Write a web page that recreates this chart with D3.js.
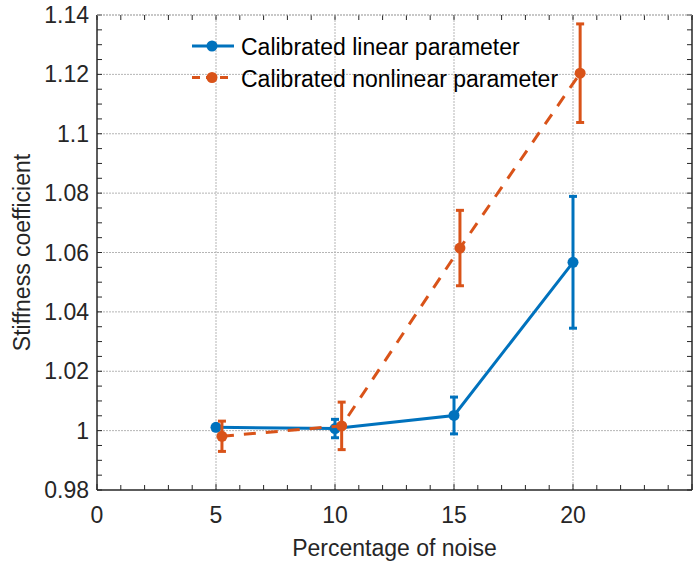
<!DOCTYPE html>
<html>
<head>
<meta charset="utf-8">
<script src="https://cdn.jsdelivr.net/npm/d3@7"></script>
<style>
  body { margin: 0; background: #fff; }
  svg { font-family: "Liberation Sans", Arial, sans-serif; }
</style>
</head>
<body>
<div id="chart"></div>
<script>
var width = 696,
    height = 571;

var margin = {top: 15, right: 4, bottom: 81, left: 97};

// data
var linX = [5, 10, 15, 20];
var linY = [1.0011, 1.0007, 1.0051, 1.0567];
var linErr = [0.0003, 0.0031, 0.0062, 0.0222];

var nonX = [5.25, 10.28, 15.25, 20.3];
var nonY = [0.9981, 1.0016, 1.0615, 1.1204];
var nonErr = [0.0051, 0.0080, 0.0127, 0.0166];

var xTicks = [0, 5, 10, 15, 20];
var yTicks = [0.98, 1, 1.02, 1.04, 1.06, 1.08, 1.1, 1.12, 1.14];
var yTickLabels = ["0.98", "1", "1.02", "1.04", "1.06", "1.08", "1.1", "1.12", "1.14"];

var seriesNames = ["Calibrated linear parameter", "Calibrated nonlinear parameter"];
var colors = ["#0072BD", "#D95319"];

var svg = d3.select("#chart").append("svg")
    .attr("width", width)
    .attr("height", height);

var x = d3.scaleLinear().domain([0, 25]).range([margin.left, width - margin.right]);
var y = d3.scaleLinear().domain([0.98, 1.14]).range([height - margin.bottom, margin.top]);

var g = svg.append("g");

// grid
g.selectAll("line.hgrid")
    .data(yTicks.slice(1)).enter()
    .append("line")
    .attr("x1", x(0)).attr("x2", x(25))
    .attr("y1", function(d) { return y(d); })
    .attr("y2", function(d) { return y(d); })
    .attr("stroke", "#b5b5b5")
    .attr("stroke-width", 1)
    .attr("stroke-dasharray", "2,1");

g.selectAll("line.vgrid")
    .data(xTicks.slice(1)).enter()
    .append("line")
    .attr("y1", y(0.98)).attr("y2", y(1.14))
    .attr("x1", function(d) { return x(d); })
    .attr("x2", function(d) { return x(d); })
    .attr("stroke", "#b5b5b5")
    .attr("stroke-width", 1)
    .attr("stroke-dasharray", "2,1");

// minor ticks
var xMinor = d3.range(0, 26, 1);
var yMinor = d3.range(0, 33).map(function(i) { return 0.98 + i * 0.005; });

// bottom + top ticks
g.append("g").selectAll("line")
    .data(xMinor).enter()
    .append("line")
    .attr("x1", function(d) { return x(d); })
    .attr("x2", function(d) { return x(d); })
    .attr("y1", y(0.98))
    .attr("y2", function(d) { return y(0.98) - (d % 5 === 0 ? 6 : 5); })
    .attr("stroke", "#262626").attr("stroke-width", 1);
g.append("g").selectAll("line")
    .data(xMinor).enter()
    .append("line")
    .attr("x1", function(d) { return x(d); })
    .attr("x2", function(d) { return x(d); })
    .attr("y1", y(1.14))
    .attr("y2", function(d) { return y(1.14) + 5; })
    .attr("stroke", "#262626").attr("stroke-width", 1);

// left + right ticks
g.append("g").selectAll("line")
    .data(yMinor).enter()
    .append("line")
    .attr("y1", function(d) { return y(d); })
    .attr("y2", function(d) { return y(d); })
    .attr("x1", x(0))
    .attr("x2", x(0) + 5)
    .attr("stroke", "#262626").attr("stroke-width", 1);
g.append("g").selectAll("line")
    .data(yMinor).enter()
    .append("line")
    .attr("y1", function(d) { return y(d); })
    .attr("y2", function(d) { return y(d); })
    .attr("x1", x(25))
    .attr("x2", x(25) - 5)
    .attr("stroke", "#262626").attr("stroke-width", 1);

// axis lines
g.append("line")
    .attr("x1", x(0)).attr("x2", x(25))
    .attr("y1", y(0.98)).attr("y2", y(0.98))
    .attr("stroke", "#262626").attr("stroke-width", 1.5);
g.append("line")
    .attr("x1", x(0)).attr("x2", x(0))
    .attr("y1", y(0.98)).attr("y2", y(1.14))
    .attr("stroke", "#262626").attr("stroke-width", 1.5);
g.append("line")
    .attr("x1", x(25)).attr("x2", x(25))
    .attr("y1", y(0.98)).attr("y2", y(1.14))
    .attr("stroke", "#262626").attr("stroke-width", 1.5);
g.append("line")
    .attr("x1", x(0)).attr("x2", x(25))
    .attr("y1", y(1.14)).attr("y2", y(1.14))
    .attr("stroke", "#b5b5b5").attr("stroke-width", 1)
    .attr("stroke-dasharray", "2,1");

// tick labels
g.selectAll("text.xt")
    .data(xTicks).enter()
    .append("text")
    .attr("x", function(d) { return x(d); })
    .attr("y", y(0.98) + 33)
    .attr("text-anchor", "middle")
    .attr("font-size", 23)
    .attr("fill", "#262626")
    .text(function(d) { return d; });

g.selectAll("text.yt")
    .data(yTicks).enter()
    .append("text")
    .attr("x", x(0) - 8)
    .attr("y", function(d) { return y(d) + 8; })
    .attr("text-anchor", "end")
    .attr("font-size", 23)
    .attr("fill", "#262626")
    .text(function(d, i) { return yTickLabels[i]; });

// axis titles
svg.append("text")
    .attr("x", (x(0) + x(25)) / 2)
    .attr("y", 556)
    .attr("text-anchor", "middle")
    .attr("font-size", 23)
    .attr("fill", "#262626")
    .text("Percentage of noise");

svg.append("text")
    .attr("transform", "translate(30," + (y(1.06)) + ")rotate(-90)")
    .attr("text-anchor", "middle")
    .attr("font-size", 23)
    .attr("fill", "#262626")
    .text("Stiffness coefficient");

// series
var series = [
    {xs: linX, ys: linY, err: linErr, color: colors[0], dash: null},
    {xs: nonX, ys: nonY, err: nonErr, color: colors[1], dash: "12,10"}
];

var line = d3.line()
    .x(function(d) { return x(d[0]); })
    .y(function(d) { return y(d[1]); });

series.forEach(function(s) {
    var pts = s.xs.map(function(v, i) { return [v, s.ys[i], s.err[i]]; });
    g.append("path")
        .datum(pts)
        .attr("d", line)
        .attr("fill", "none")
        .attr("stroke", s.color)
        .attr("stroke-width", 3)
        .attr("stroke-dasharray", s.dash);

    var eb = g.append("g").selectAll("g")
        .data(pts).enter()
        .append("g")
        .attr("stroke", s.color)
        .attr("stroke-width", 3);
    eb.append("line")
        .attr("x1", function(d) { return x(d[0]); })
        .attr("x2", function(d) { return x(d[0]); })
        .attr("y1", function(d) { return y(d[1] - d[2]); })
        .attr("y2", function(d) { return y(d[1] + d[2]); });
    eb.append("line")
        .attr("x1", function(d) { return x(d[0]) - 4; })
        .attr("x2", function(d) { return x(d[0]) + 4; })
        .attr("y1", function(d) { return y(d[1] - d[2]); })
        .attr("y2", function(d) { return y(d[1] - d[2]); });
    eb.append("line")
        .attr("x1", function(d) { return x(d[0]) - 4; })
        .attr("x2", function(d) { return x(d[0]) + 4; })
        .attr("y1", function(d) { return y(d[1] + d[2]); })
        .attr("y2", function(d) { return y(d[1] + d[2]); });

    g.append("g").selectAll("circle")
        .data(pts).enter()
        .append("circle")
        .attr("cx", function(d) { return x(d[0]); })
        .attr("cy", function(d) { return y(d[1]); })
        .attr("r", 5.5)
        .attr("fill", s.color);
});

// legend
var legend = svg.append("g");
seriesNames.forEach(function(name, i) {
    var ly = 46 + i * 31.5;
    legend.append("line")
        .attr("x1", 192).attr("x2", 234)
        .attr("y1", ly).attr("y2", ly)
        .attr("stroke", colors[i])
        .attr("stroke-width", 3)
        .attr("stroke-dasharray", i === 1 ? "8,6" : null);
    legend.append("circle")
        .attr("cx", 212).attr("cy", ly).attr("r", 5.5)
        .attr("fill", colors[i]);
    legend.append("text")
        .attr("x", 241).attr("y", ly + 9)
        .attr("font-size", 23)
        .attr("fill", "#000")
        .text(name);
});
</script>
</body>
</html>
